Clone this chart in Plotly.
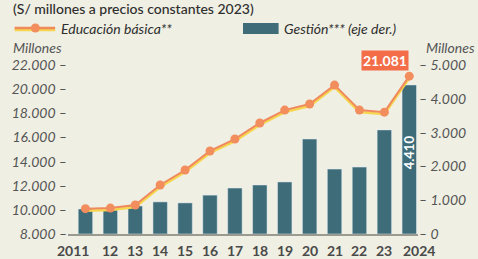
import plotly.graph_objects as go

years = [2011, 2012, 2013, 2014, 2015, 2016, 2017, 2018, 2019, 2020, 2021, 2022, 2023, 2024]
year_labels = ["2011", "12", "13", "14", "15", "16", "17", "18", "19", "20", "21", "22", "23", "2024"]
educacion = [10100, 10150, 10400, 12060, 13300, 14880, 15870, 17200, 18270, 18770, 20340, 18270, 18100, 21081]
gestion = [740, 710, 830, 950, 920, 1150, 1360, 1450, 1540, 2810, 1920, 1980, 3080, 4410]
left_ticks = [8000, 10000, 12000, 14000, 16000, 18000, 20000, 22000]
left_labels = ["8.000 –", "10.000 –", "12.000 –", "14.000 –", "16.000 –", "18.000 –", "20.000 –", "22.000 –"]
right_ticks = [0, 1000, 2000, 3000, 4000, 5000]
right_labels = ["– 0", "– 1.000", "– 2.000", "– 3.000", "– 4.000", "– 5.000"]

BG = "#efefe3"
TEAL = "#3e6d79"
ORANGE = "#f08a5d"
YELLOW = "#f5d64e"
FONT = "Lato"

W, H = 478, 259
L, R, T, B = 66, 58, 53, 25
pw, ph = W - L - R, H - T - B
left_range = [8000, 23000]
shadow = 2.0 / ph * (left_range[1] - left_range[0])

def px(x):
    return (x - L) / pw

def py(y):
    return (H - B - y) / ph

fig = go.Figure()
fig.add_trace(go.Bar(x=years, y=gestion, marker_color=TEAL, width=0.58, yaxis="y", hoverinfo="skip"))
fig.add_trace(go.Scatter(x=years, y=[v - shadow for v in educacion], mode="lines",
                         line=dict(color=YELLOW, width=2.5), yaxis="y2", hoverinfo="skip"))
fig.add_trace(go.Scatter(x=years, y=educacion, mode="lines+markers",
                         line=dict(color=ORANGE, width=2),
                         marker=dict(color="#f28d5e", size=9), yaxis="y2"))

annotations = []
# x tick labels
shifts = [-12] + [0] * 12 + [10]
for yr, lab, s in zip(years, year_labels, shifts):
    annotations.append(dict(x=yr, y=0, xref="x", yref="paper", yanchor="top", yshift=-6, xshift=s,
                            text=lab, showarrow=False,
                            font=dict(family=FONT, size=14, color="#4a4a4a", weight="bold")))

annotations += [
    dict(x=px(8), y=py(9), xref="paper", yref="paper", xanchor="left", yanchor="middle",
         text="(S/ millones a precios constantes 2023)", showarrow=False,
         font=dict(family=FONT, size=14, color="#2e2e2e", weight=500)),
    dict(x=px(57), y=py(29), xref="paper", yref="paper", xanchor="left", yanchor="middle",
         text="Educación básica**", showarrow=False,
         font=dict(family=FONT, size=14, color="#2e2e2e", style="italic")),
    dict(x=px(282), y=py(29), xref="paper", yref="paper", xanchor="left", yanchor="middle",
         text="Gestión*** (eje der.)", showarrow=False,
         font=dict(family=FONT, size=14, color="#2e2e2e", style="italic")),
    dict(x=px(8), y=py(48), xref="paper", yref="paper", xanchor="left", yanchor="middle",
         text="Millones", showarrow=False,
         font=dict(family=FONT, size=14, color="#555555", style="italic")),
    dict(x=px(426), y=py(48), xref="paper", yref="paper", xanchor="left", yanchor="middle",
         text="Millones", showarrow=False,
         font=dict(family=FONT, size=14, color="#555555", style="italic")),
    dict(x=years[-1], y=educacion[-1], xref="x", yref="y2", xanchor="center", yanchor="middle",
         xshift=-24, yshift=16, text="21.081", showarrow=False, bgcolor="#f36d48", borderpad=1,
         font=dict(family=FONT, size=14, color="white", weight="bold")),
    dict(x=years[-1], y=gestion[-1] * 0.55, xref="x", yref="y", textangle=-90,
         text="4.410", showarrow=False,
         font=dict(family=FONT, size=13, color="white", weight="bold")),
]

shapes = [
    dict(type="line", xref="paper", yref="paper", x0=px(12), x1=px(53), y0=py(30), y1=py(30),
         line=dict(color=YELLOW, width=2.5)),
    dict(type="line", xref="paper", yref="paper", x0=px(12), x1=px(53), y0=py(28), y1=py(28),
         line=dict(color=ORANGE, width=2.5)),
    dict(type="circle", xref="paper", yref="paper", xsizemode="pixel", ysizemode="pixel",
         xanchor=px(33), yanchor=py(28), x0=-4.5, x1=4.5, y0=-4.5, y1=4.5,
         fillcolor="#f28d5e", line=dict(width=0)),
    dict(type="rect", xref="paper", yref="paper", x0=px(243), x1=px(279), y0=py(34), y1=py(23),
         fillcolor=TEAL, line=dict(width=0)),
]

fig.update_layout(
    width=W, height=H, margin=dict(l=L, r=R, t=T, b=B),
    paper_bgcolor=BG, plot_bgcolor=BG, showlegend=False,
    font=dict(family=FONT),
    xaxis=dict(range=[2010.3, 2024.35], showticklabels=False, ticks="", showgrid=False, zeroline=False,
               showline=True, linecolor="#9a9a90", linewidth=1.5),
    yaxis=dict(side="right", range=[0, 5355], tickvals=right_ticks, ticktext=right_labels,
               showgrid=False, zeroline=False, ticks="",
               tickfont=dict(family=FONT, size=14, color="#555555", style="italic")),
    yaxis2=dict(overlaying="y", side="left", range=left_range, tickvals=left_ticks, ticktext=left_labels,
                showgrid=False, zeroline=False, ticks="",
                tickfont=dict(family=FONT, size=14, color="#555555", style="italic")),
    annotations=annotations, shapes=shapes,
)

fig.write_html("out.html", config={"displayModeBar": False},
               post_script="document.body.style.margin='0';document.body.style.background='" + BG + "';")
